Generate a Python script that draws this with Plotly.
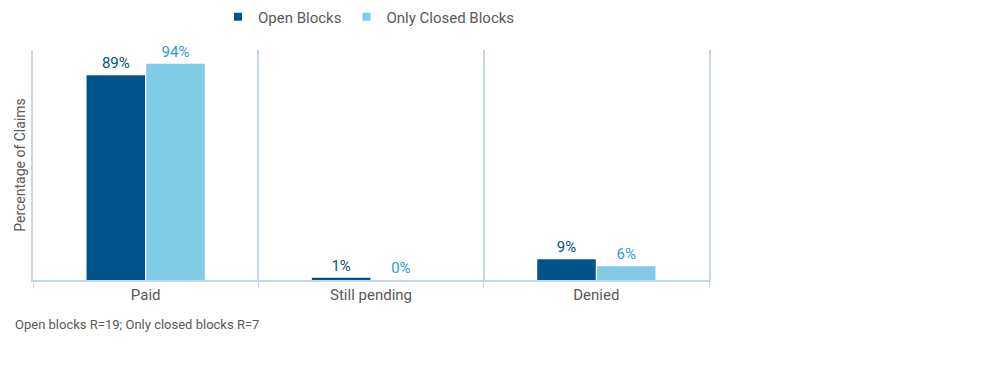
import plotly.graph_objects as go

categories = ["Paid", "Still pending", "Denied"]
open_blocks = [89, 1, 9]
closed_blocks = [94, 0, 6]
series_names = ["Open Blocks", "Only Closed Blocks"]
note = "Open blocks R=19; Only closed blocks R=7"

DARK = "#00548A"
LIGHT = "#80CBE5"
LIGHT_TXT = "#1FA0D6"
GRID = "#C8D7E5"
TXT = "#595959"
FONT = "Roboto, Arial"

# page body has 8px margin; figure coords = screen coords - 8
L, T, R, B = 25, 42, 701, 272
W = R - L
H = B - T

fig = go.Figure()
for vals, name, col, tcol in [(open_blocks, series_names[0], DARK, DARK),
                              (closed_blocks, series_names[1], LIGHT, LIGHT_TXT)]:
    fig.add_trace(go.Bar(
        x=categories, y=vals, name=name, showlegend=False,
        marker=dict(color=col, line=dict(width=0)),
        text=[f"{v}%" for v in vals], textposition="outside",
        textfont=dict(color=tcol, size=15, family=FONT), cliponaxis=False,
    ))
for name, col in [(series_names[0], DARK), (series_names[1], LIGHT)]:
    fig.add_trace(go.Scatter(
        x=[None], y=[None], mode="markers", name=name,
        marker=dict(symbol="square", size=8, color=col),
    ))

fig.update_layout(
    width=1000, height=375,
    margin=dict(l=L, r=1000 - R, t=T, b=375 - B, autoexpand=False),
    paper_bgcolor="white", plot_bgcolor="white",
    barmode="group", bargap=0.47, bargroupgap=0.02,
    font=dict(family=FONT, color=TXT, size=14),
    legend=dict(orientation="h", x=(210 - L) / W, xanchor="left",
                y=1 + (T - 9) / H, yanchor="middle",
                font=dict(size=15, color=TXT), itemwidth=30,
                traceorder="normal", tracegroupgap=0),
    xaxis=dict(type="category", tickson="boundaries", showgrid=True, gridcolor=GRID,
               gridwidth=1.5, ticks="outside", ticklen=6, tickcolor=GRID,
               showline=True, linecolor=GRID, linewidth=1.5,
               tickfont=dict(size=15, color=TXT), automargin=False),
    yaxis=dict(range=[0, 100], showgrid=False, showticklabels=False, zeroline=False,
               showline=True, mirror=True, linecolor=GRID, linewidth=1.5,
               automargin=False,
               title=dict(text="Percentage of Claims", font=dict(size=14, color=TXT),
                          standoff=2)),
)
fig.add_annotation(text=note, xref="paper", yref="paper",
                   x=(5 - L) / W, y=-(316 - B) / H,
                   xanchor="left", yanchor="middle", showarrow=False,
                   font=dict(size=13, color=TXT))
fig.write_html("out.html")
